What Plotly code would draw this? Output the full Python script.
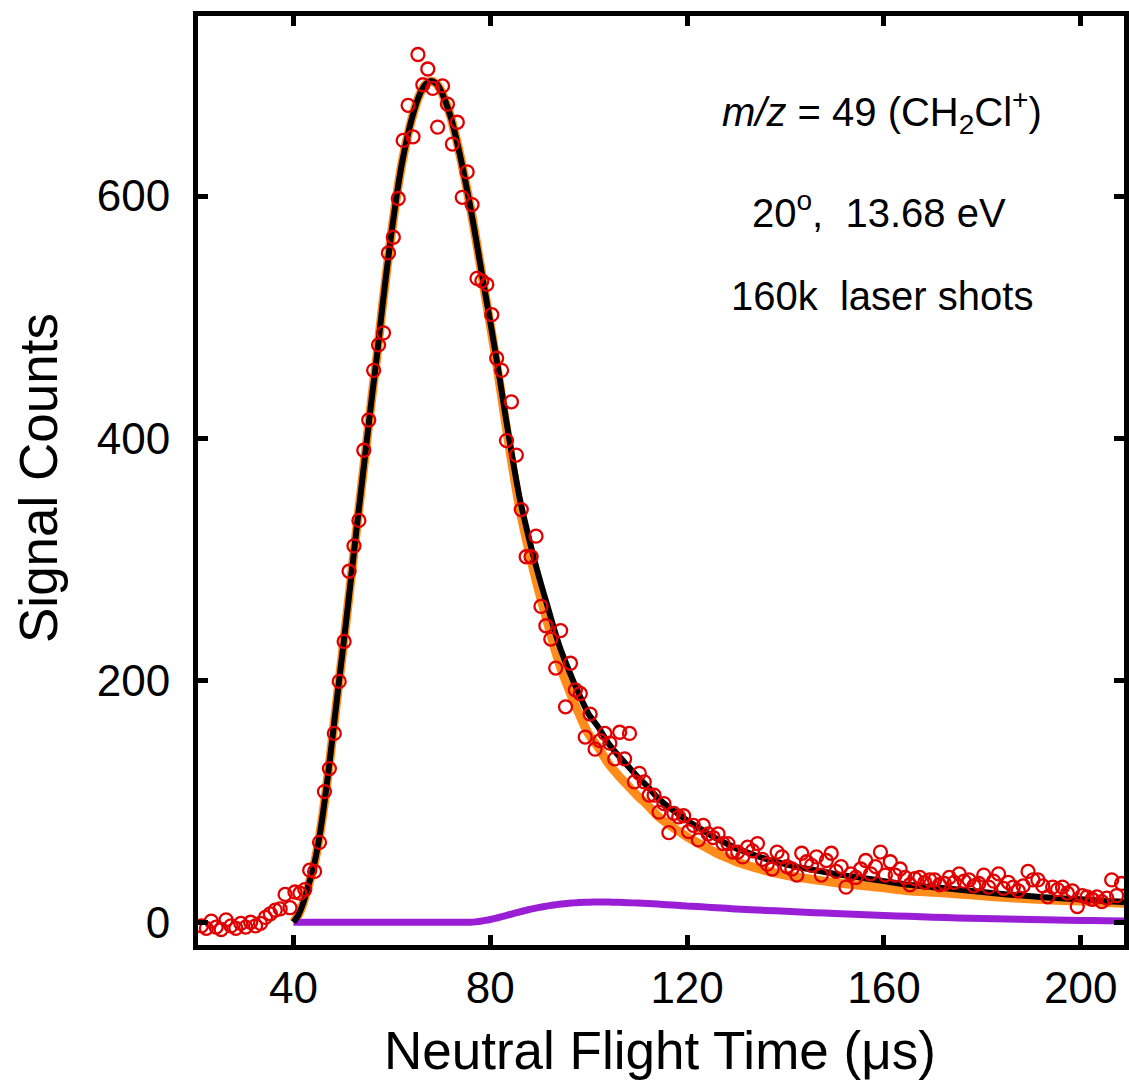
import plotly.graph_objects as go

# ---------------- data ----------------
t_start = 20.3          # first time bin (us)
t_step = 1.0            # bin width (us)
signal_counts = [
    -1, -3, -5, 1, -4, -6, 2, -3, -5, -1,
    -4, 0, -3, -1, 4, 7, 10, 11, 23, 12,
    25, 24, 27, 43, 42, 66, 108, 127, 156, 199,
    232, 290, 311, 332, 390, 415, 456, 477, 487, 553,
    566, 598, 646, 675, 649, 717, 692, 705, 689, 657,
    691, 676, 643, 661, 599, 620, 593, 532, 530, 527,
    502, 466, 456, 398, 430, 386, 341, 302, 302, 319,
    261, 245, 234, 210, 241, 178, 214, 192, 189, 153,
    172, 143, 150, 156, 148, 135, 157, 135, 156, 116,
    123, 116, 105, 105, 91, 98, 74, 90, 87, 88,
    75, 80, 68, 80, 73, 70, 73, 65, 65, 58,
    58, 54, 62, 59, 65, 52, 48, 44, 58, 54,
    46, 44, 39, 57, 50, 47, 54, 39, 51, 57,
    42, 46, 29, 40, 37, 44, 51, 40, 46, 58,
    39, 50, 39, 44, 37, 31, 36, 37, 33, 35,
    35, 31, 32, 37, 33, 40, 34, 35, 30, 32,
    39, 29, 34, 40, 28, 33, 29, 26, 30, 42,
    35, 35, 30, 21, 29, 27, 29, 24, 26, 13,
    22, 21, 19, 21, 17, 20, 35, 22, 32, 28,
]
flight_time = [t_start + i * t_step for i in range(len(signal_counts))]

fit_time = (list(range(40, 101)) + list(range(102, 135, 2)) +
            [138, 142, 146, 150, 155, 160, 165, 170, 175, 180, 185, 190, 195, 200, 205, 210])

total_fit = [
    0, 6, 16, 30, 44, 64, 90, 121, 155, 190,
    224, 259, 295, 331, 366, 401, 436, 469, 506, 540,
    572, 601, 626, 646, 663, 677, 687, 693, 695, 693,
    687, 677, 665, 649, 631, 611, 590, 567, 543, 519,
    496, 472, 447, 421, 396, 372, 350, 332, 315, 299,
    284, 270, 256, 242, 229, 218, 208, 198, 189, 180,
    172,
    161, 148, 138, 129, 120, 112, 103, 96, 90, 84, 79, 74, 69, 65, 61, 58, 55,
    50, 46, 43, 40, 37, 34, 31, 29, 27, 25, 23, 21.5, 20, 19, 17.5, 16.5,
]

fast_fit = [
    0, 6, 16, 30, 44, 64, 90, 121, 155, 190,
    224, 259, 295, 331, 366, 401, 436, 469, 506, 540,
    572, 601, 626, 646, 663, 677, 687, 693, 695, 693,
    687, 677, 665, 649, 631, 611, 590, 566.7, 542.2, 517.5,
    493.7, 468.8, 442.8, 415.7, 389.6, 364.5, 341.4, 322.4, 304.4, 287.5,
    271.7, 257, 242.3, 227.7, 214.2, 202.7, 192.3, 182, 172.7, 163.5,
    155.4,
    144.2, 131.2, 121.5, 112.8, 104.2, 96.6, 88, 81.5, 76, 70.6, 66, 61.5, 57, 53.5, 50, 47.4, 44.8,
    40.6, 37.4, 35.1, 32.8, 30.6, 28.4, 26.1, 24.8, 23.4, 21.9, 20.4, 19.3, 18.2, 17.5, 16.3, 15.5,
]

slow_fit = [
    0, 0, 0, 0, 0, 0, 0, 0, 0, 0,
    0, 0, 0, 0, 0, 0, 0, 0, 0, 0,
    0, 0, 0, 0, 0, 0, 0, 0, 0, 0,
    0, 0, 0, 0, 0, 0, 0, 0.3, 0.8, 1.5,
    2.3, 3.2, 4.2, 5.3, 6.4, 7.5, 8.6, 9.6, 10.6, 11.5,
    12.3, 13, 13.7, 14.3, 14.8, 15.3, 15.7, 16, 16.3, 16.5,
    16.6,
    16.8, 16.8, 16.5, 16.2, 15.8, 15.4, 15, 14.5, 14, 13.4, 13, 12.5, 12, 11.5, 11, 10.6, 10.2,
    9.4, 8.6, 7.9, 7.2, 6.4, 5.6, 4.9, 4.2, 3.6, 3.1, 2.6, 2.2, 1.8, 1.5, 1.2, 1.0,
]

x_ticks = [40, 80, 120, 160, 200]
y_ticks = [0, 200, 400, 600]
x_title = "Neutral Flight Time (\u03bcs)"
y_title = "Signal Counts"
annotation_lines = [
    "<i>m/z</i> = 49 (CH<sub>2</sub>Cl<sup>+</sup>)",
    "20<sup>o</sup>,  13.68 eV",
    "160k  laser shots",
]

# ---------------- figure ----------------
FONT = "Liberation Sans, Arial, Helvetica, sans-serif"
W, H = 1129, 1080
ML, MR, MT, MB = 198, 5, 16, 135
PW, PH = W - ML - MR, H - MT - MB

fig = go.Figure()
fig.add_trace(go.Scatter(x=fit_time, y=fast_fit, mode="lines",
                         line=dict(color="#ff8c1a", width=9, shape="spline", smoothing=0.6),
                         showlegend=False))
fig.add_trace(go.Scatter(x=fit_time, y=slow_fit, mode="lines",
                         line=dict(color="#9a1ed6", width=7, shape="spline", smoothing=0.6),
                         showlegend=False))
fig.add_trace(go.Scatter(x=fit_time, y=total_fit, mode="lines",
                         line=dict(color="black", width=6, shape="spline", smoothing=0.6),
                         showlegend=False))
fig.add_trace(go.Scatter(x=flight_time, y=signal_counts, mode="markers",
                         marker=dict(symbol="circle-open", size=13, color="#e00000",
                                     line=dict(width=2.3, color="#e00000")),
                         cliponaxis=False, showlegend=False))

axis_common = dict(showline=True, linewidth=5, linecolor="black", mirror="allticks",
                   ticks="inside", ticklen=10, tickwidth=5, tickcolor="black",
                   showgrid=False, zeroline=False, automargin=False,
                   tickfont=dict(family=FONT, size=44, color="black"))

fig.update_xaxes(range=[20.6, 208.8], tickvals=x_ticks, ticktext=[str(v) for v in x_ticks],
                 ticklabelstandoff=0, **axis_common)
fig.update_yaxes(range=[-18.8, 748.8], tickvals=y_ticks, ticktext=[str(v) for v in y_ticks],
                 ticklabelstandoff=14, **axis_common)


def px_to_paper(px, py):
    return (px - ML) / PW, 1 - (py - MT) / PH


# axis titles (placed by pixel position)
tx, ty = px_to_paper(660, 1050)
fig.add_annotation(text=x_title, xref="paper", yref="paper", x=tx, y=ty,
                   xanchor="center", yanchor="middle", showarrow=False,
                   font=dict(family=FONT, size=53, color="black"))
tx, ty = px_to_paper(38, 478)
fig.add_annotation(text=y_title, xref="paper", yref="paper", x=tx, y=ty, textangle=-90,
                   xanchor="center", yanchor="middle", showarrow=False,
                   font=dict(family=FONT, size=53, color="black"))

for txt, (cx, cy) in zip(annotation_lines, [(882, 112), (879, 210), (882, 296)]):
    ax_, ay_ = px_to_paper(cx, cy)
    fig.add_annotation(text=txt, xref="paper", yref="paper", x=ax_, y=ay_,
                       xanchor="center", yanchor="middle", showarrow=False,
                       font=dict(family=FONT, size=40, color="black"))

fig.update_layout(width=W, height=H, margin=dict(l=ML, r=MR, t=MT, b=MB, autoexpand=False),
                  plot_bgcolor="white", paper_bgcolor="white",
                  font=dict(family=FONT, color="black"))

fig.write_html("out.html")
